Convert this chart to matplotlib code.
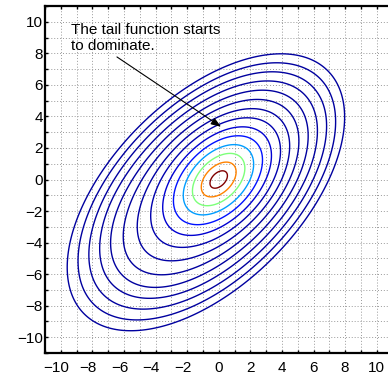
import numpy as np
import matplotlib
matplotlib.use("Agg")
import matplotlib.pyplot as plt
from matplotlib.colors import Normalize
from matplotlib.ticker import MultipleLocator
from matplotlib.transforms import ScaledTranslation

plt.rcParams['font.family'] = ['Liberation Sans', 'DejaVu Sans']

# contour radii of the scaled distance, innermost first
radii = [1, 2, 3, 4, 5, 6, 7, 8, 9, 10, 11, 12, 13, 14]

# core: centred ellipse, scale per unit radius along the diagonal (u)
# and the anti-diagonal (w)
core_u, core_w = 0.66, 0.415
# tail: longer ellipse whose centre drifts to the lower left (eccentricity ecc)
tail_u, tail_w = 0.77, 0.422
ecc = 0.105
blend_start, blend_end = 2.0, 13.0
decay = 0.09

tick_vals = [-10, -8, -6, -4, -2, 0, 2, 4, 6, 8, 10]
note = "The tail function starts\nto dominate."
arrow_from = (-6.44, 7.77)
arrow_to = (0.15, 3.34)

g = np.linspace(-11, 11, 881)
X, Y = np.meshgrid(g, g)
U = (X + Y) / np.sqrt(2)
W = (Y - X) / np.sqrt(2)

Dc = np.sqrt((U / core_u) ** 2 + (W / core_w) ** 2)
Dt = np.sqrt((U / tail_u) ** 2 + (W / tail_w) ** 2) + ecc * U / tail_u

# weight of the tail term, rising smoothly with distance
s = np.clip((Dc - blend_start) / (blend_end - blend_start), 0, 1)
s = s * s * (3 - 2 * s)
D = (1 - s) * Dc + s * Dt
Z = np.exp(-decay * D ** 2)

levels = np.exp(-decay * np.array(radii, dtype=float) ** 2)[::-1]

fig = plt.figure(figsize=(3.88, 3.78), dpi=100)
ax = fig.add_axes([44.9 / 388, 25 / 378, 347.6 / 388, 347 / 378])

ax.contour(X, Y, Z, levels=levels, cmap='jet',
           norm=Normalize(vmin=-0.03 * levels.max(), vmax=levels.max()),
           linewidths=1.0)

ax.set_xlim(-11, 11)
ax.set_ylim(-11, 11)
ax.set_xticks(tick_vals)
ax.set_yticks(tick_vals)
ax.xaxis.set_minor_locator(MultipleLocator(1))
ax.yaxis.set_minor_locator(MultipleLocator(1))
ax.grid(True, which='both', color='0.6', linestyle=(0, (1, 2)), linewidth=0.7)
ax.set_axisbelow(True)
ax.tick_params(which='both', direction='in', top=True, right=True,
               length=2.5, width=1.0, labelsize=11)
ax.tick_params(axis='x', which='both', pad=6)
ax.tick_params(axis='y', which='both', pad=1.5)
for sp in ax.spines.values():
    sp.set_linewidth(1.6)

# keep the digits centred under the tick, the minus sign hangs to the left
minus_shift = ScaledTranslation(-3.2 / 72, 0, fig.dpi_scale_trans)
for val, lab in zip(tick_vals, ax.get_xticklabels()):
    if val < 0:
        lab.set_transform(lab.get_transform() + minus_shift)

ax.text(-9.35, 9.95, note, fontsize=11, va='top', ha='left')
ax.annotate('', xy=arrow_to, xytext=arrow_from,
            arrowprops=dict(arrowstyle='-|>,head_length=0.6,head_width=0.22',
                            lw=0.8, color='k', shrinkA=0, shrinkB=0))

fig.savefig('out.png', dpi=100)
